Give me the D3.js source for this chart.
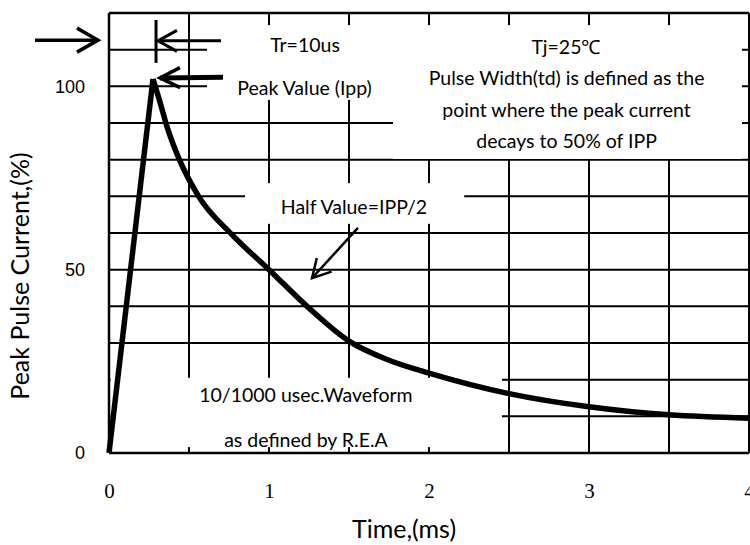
<!DOCTYPE html>
<meta charset="utf-8">

<body style="margin:0;background:#fff">
</body>

<style>
    .grid line { stroke: #000; stroke-width: 2; }
    .frame { stroke: #000; stroke-width: 2.5; }
    .note { font-family: Lato, "Open Sans", sans-serif; font-size: 19.5px; fill: #000; }
    .title { font-family: Lato, "Open Sans", sans-serif; font-size: 25px; fill: #000; }
    .ylab text { font-family: "Liberation Sans", Arial, sans-serif; font-size: 18px; fill: #000; }
    .xlab text { font-family: "Liberation Serif", "Times New Roman", serif; font-size: 21px; fill: #000; }
</style>

<script src="https://d3js.org/d3.v7.min.js"></script>
<script>
    // waveform: time in ms, current in % of Ipp
    const riseTime = [0, 0.275];
    const riseValue = [0, 102];
    const decayTime = [0.275, 0.31, 0.37, 0.44, 0.56, 0.77, 1.0, 1.25, 1.5, 1.75, 2.0, 2.5, 3.0, 3.5, 4.0];
    const decayValue = [102, 97, 88, 80, 70, 59.5, 50, 39.5, 30.5, 25.3, 21.8, 16.2, 12.6, 10.4, 9.5];

    // tick labels
    const xTicks = [0, 1, 2, 3, 4];
    const yTicks = [0, 50, 100];

    // grid steps
    const xGrid = [0, 0.5, 1, 1.5, 2, 2.5, 3, 3.5, 4];
    const yGrid = [0, 10, 20, 30, 40, 50, 60, 70, 80, 90, 100, 110, 120];

    const margin = {top: 13, right: 1, bottom: 92, left: 109},
        width = 750 - margin.left - margin.right,
        height = 545 - margin.top - margin.bottom;

    let x = d3.scaleLinear().domain([0, 4]).range([0, width]);
    let y = d3.scaleLinear().domain([0, 120]).range([height, 0]);

    let svg = d3.select("body").append("svg")
        .attr("width", 750)
        .attr("height", 545)
      .append("g")
        .attr("transform", "translate(" + margin.left + "," + margin.top + ")");

    // grid
    let grid = svg.append("g").attr("class", "grid");
    grid.selectAll(".v").data(xGrid).enter().append("line")
        .attr("x1", d => x(d)).attr("x2", d => x(d))
        .attr("y1", 0).attr("y2", height);
    grid.selectAll(".h").data(yGrid).enter().append("line")
        .attr("y1", d => y(d)).attr("y2", d => y(d))
        .attr("x1", 0).attr("x2", width);

    // white text boxes that hide the grid, [t0, t1, v0, v1]
    const boxes = [
        [0.6125, 1.775, 96.3, 116.7],
        [1.775, 3.956, 80.2, 116.7],
        [0.85, 2.22, 62.5, 73.6],
        [0.01, 2.456, 1.6, 20.5]
    ];
    svg.selectAll(".box").data(boxes).enter().append("rect")
        .attr("x", d => x(d[0])).attr("width", d => x(d[1]) - x(d[0]))
        .attr("y", d => y(d[3])).attr("height", d => y(d[2]) - y(d[3]))
        .attr("fill", "#fff");

    // frame
    svg.append("line").attr("class", "frame").attr("x1", 0).attr("x2", 0).attr("y1", 0).attr("y2", height);
    svg.append("line").attr("class", "frame").attr("x1", 0).attr("x2", width).attr("y1", 0).attr("y2", 0);
    svg.append("line").attr("class", "frame").attr("x1", 0).attr("x2", width).attr("y1", height).attr("y2", height);

    // axes: labels only
    let yAxis = svg.append("g").attr("class", "ylab")
        .call(d3.axisLeft(y).tickValues(yTicks).tickSize(0).tickPadding(24));
    yAxis.select(".domain").remove();

    let xAxis = svg.append("g").attr("class", "xlab")
        .attr("transform", "translate(0," + height + ")")
        .call(d3.axisBottom(x).tickValues(xTicks).tickFormat(d3.format("d")).tickSize(0).tickPadding(30));
    xAxis.select(".domain").remove();

    // the pulse
    let rise = riseTime.map((t, i) => [t, riseValue[i]]);
    let decay = decayTime.map((t, i) => [t, decayValue[i]]);
    svg.append("path")
        .datum(rise)
        .attr("fill", "none").attr("stroke", "#000").attr("stroke-width", 5.5)
        .attr("d", d3.line().x(d => x(d[0])).y(d => y(d[1])));
    svg.append("path")
        .datum(decay)
        .attr("fill", "none").attr("stroke", "#000").attr("stroke-width", 5.5)
        .attr("stroke-linejoin", "round")
        .attr("d", d3.line().x(d => x(d[0])).y(d => y(d[1])).curve(d3.curveMonotoneX));

    // annotation texts [t, v, text]
    const notes = [
        [1.225, 111.3, "Tr=10us"],
        [1.222, 99.5, "Peak Value (Ipp)"],
        [2.856, 110.7, "Tj=25\u2103"],
        [2.86, 102.3, "Pulse Width(td) is defined as the"],
        [2.86, 93.5, "point where the peak current"],
        [2.86, 85.1, "decays to 50% of IPP"],
        [1.531, 67.1, "Half Value=IPP/2"],
        [1.231, 15.8, "10/1000 usec.Waveform"],
        [1.231, 3.5, "as defined by R.E.A"]
    ];
    svg.selectAll(".note").data(notes).enter().append("text")
        .attr("class", "note")
        .attr("x", d => x(d[0])).attr("y", d => y(d[1]))
        .attr("dy", "0.36em")
        .attr("text-anchor", "middle")
        .text(d => d[2]);

    // arrows: [t0, v0, t1, v1, width, headLen, headHalf]; head at (t1, v1)
    const arrows = [
        [-0.4625, 112.6, -0.06875, 112.6, 3.5, 21, 12],
        [0.7, 112.4, 0.306, 112.4, 3, 19, 10.5],
        [0.7125, 102.5, 0.319, 102.3, 5, 20, 10],
        [1.556, 61.4, 1.269, 47.7, 2.5, 18, 10]
    ];
    arrows.forEach(a => {
        let x0 = x(a[0]), y0 = y(a[1]), x1 = x(a[2]), y1 = y(a[3]);
        let len = Math.hypot(x1 - x0, y1 - y0);
        let ux = (x1 - x0) / len, uy = (y1 - y0) / len;
        let bx = x1 - ux * a[5], by = y1 - uy * a[5];
        svg.append("line")
            .attr("x1", x0).attr("y1", y0).attr("x2", x1).attr("y2", y1)
            .attr("stroke", "#000").attr("stroke-width", a[4]);
        svg.append("path")
            .attr("d", "M" + (bx - uy * a[6]) + "," + (by + ux * a[6]) +
                "L" + x1 + "," + y1 +
                "L" + (bx + uy * a[6]) + "," + (by - ux * a[6]))
            .attr("fill", "none").attr("stroke", "#000")
            .attr("stroke-width", Math.min(a[4], 3.5));
    });

    // rise-time marker
    svg.append("line")
        .attr("x1", x(0.294)).attr("x2", x(0.294))
        .attr("y1", y(118.1)).attr("y2", y(106.4))
        .attr("stroke", "#000").attr("stroke-width", 3);

    // axis titles
    svg.append("text").attr("class", "title")
        .attr("x", 404 - margin.left).attr("y", 538 - margin.top)
        .attr("text-anchor", "middle")
        .text("Time,(ms)");
    svg.append("text").attr("class", "title")
        .attr("transform", "translate(" + (29 - margin.left) + "," + (276 - margin.top) + ") rotate(-90)")
        .attr("text-anchor", "middle")
        .text("Peak Pulse Current,(%)");
</script>
